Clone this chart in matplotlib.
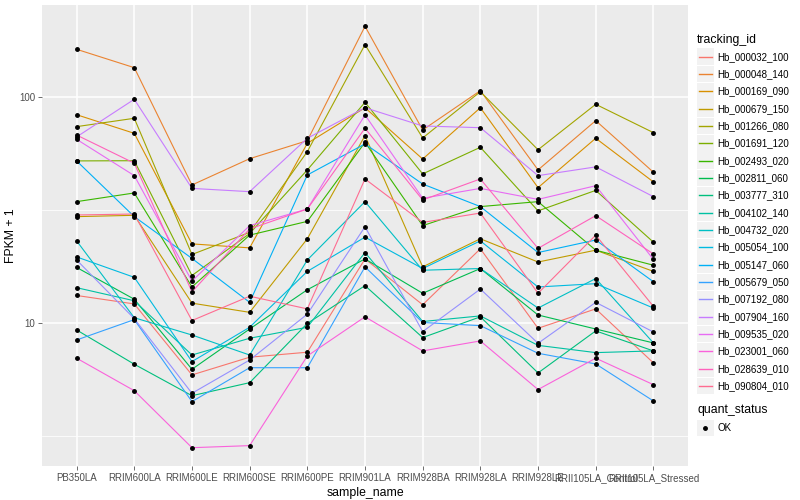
import matplotlib
matplotlib.use("Agg")
import matplotlib.pyplot as plt
from matplotlib.lines import Line2D
from matplotlib.patches import Rectangle

plt.rcParams["font.family"] = ["Liberation Sans", "DejaVu Sans"]

# data
samples = ["PB350LA", "RRIM600LA", "RRIM600LE", "RRIM600SE", "RRIM600PE",
           "RRIM901LA", "RRIM928BA", "RRIM928LA", "RRIM928LE",
           "RRII105LA_Control", "RRII105LA_Stressed"]

tracking_ids = ["Hb_000032_100", "Hb_000048_140", "Hb_000169_090", "Hb_000679_150",
                "Hb_001266_080", "Hb_001691_120", "Hb_002493_020", "Hb_002811_060",
                "Hb_003777_310", "Hb_004102_140", "Hb_004732_020", "Hb_005054_100",
                "Hb_005147_060", "Hb_005679_050", "Hb_007192_080", "Hb_007904_160",
                "Hb_009535_020", "Hb_023001_060", "Hb_028639_010", "Hb_090804_010"]

# FPKM + 1 per sample, one list per gene
hb_000032_100 = [13.3, 12.2, 5.92, 7.09, 7.46, 19.3, 12.1, 21.4, 9.52, 11.6, 6.69]
hb_000048_140 = [163.4, 135.5, 41.0, 53.6, 64.4, 206.5, 71.8, 107.2, 47.8, 79.0, 46.7]
hb_000169_090 = [83.9, 69.4, 22.5, 21.6, 62.7, 90.1, 53.4, 90.1, 39.9, 66.0, 42.3]
hb_000679_150 = [29.7, 30.1, 12.3, 11.2, 23.7, 67.8, 17.8, 23.7, 18.7, 21.1, 17.0]
hb_001266_080 = [74.3, 80.9, 20.2, 25.3, 57.6, 171.3, 66.2, 106.1, 58.7, 93.3, 69.9]
hb_001691_120 = [52.4, 52.5, 16.3, 25.0, 47.8, 95.2, 45.9, 60.2, 31.5, 38.8, 22.9]
hb_002493_020 = [34.6, 37.8, 14.5, 24.6, 28.3, 63.3, 27.1, 32.9, 34.6, 21.1, 18.1]
hb_002811_060 = [17.7, 12.8, 6.27, 9.45, 14.1, 19.3, 13.6, 17.5, 10.9, 9.45, 8.2]
hb_003777_310 = [9.36, 6.6, 4.79, 5.47, 10.0, 14.7, 8.66, 10.7, 6.04, 9.27, 7.56]
hb_004102_140 = [14.4, 12.6, 7.25, 8.6, 9.62, 20.6, 10.2, 10.8, 8.0, 7.43, 7.56]
hb_004732_020 = [23.2, 10.6, 8.89, 7.25, 19.1, 34.6, 17.2, 17.5, 11.7, 15.8, 8.2]
hb_005054_100 = [19.7, 16.0, 6.78, 9.62, 17.0, 24.1, 17.5, 23.2, 14.5, 15.0, 11.7]
hb_005147_060 = [52.4, 29.7, 19.4, 12.4, 45.4, 62.3, 41.4, 32.9, 20.6, 23.4, 15.3]
hb_005679_050 = [8.45, 10.4, 4.51, 6.37, 6.37, 17.8, 10.1, 9.78, 7.38, 6.62, 4.54]
hb_007192_080 = [19.1, 10.5, 4.91, 6.89, 11.0, 26.8, 9.2, 14.2, 8.17, 12.4, 9.17]
hb_007904_160 = [66.9, 98.2, 39.6, 38.3, 66.0, 90.1, 74.8, 73.5, 45.1, 49.3, 36.4]
hb_009535_020 = [65.3, 45.1, 15.4, 27.1, 32.1, 83.7, 35.8, 39.6, 35.4, 40.7, 19.2]
hb_023001_060 = [7.02, 5.04, 2.82, 2.88, 7.18, 10.7, 7.56, 8.37, 5.1, 7.02, 5.36]
hb_028639_010 = [68.2, 51.2, 13.8, 26.2, 32.1, 73.1, 35.2, 43.6, 21.5, 30.0, 20.3]
hb_090804_010 = [30.2, 30.5, 10.3, 13.2, 11.6, 43.6, 28.0, 30.8, 13.6, 24.6, 11.9]

series = [hb_000032_100, hb_000048_140, hb_000169_090, hb_000679_150, hb_001266_080,
          hb_001691_120, hb_002493_020, hb_002811_060, hb_003777_310, hb_004102_140,
          hb_004732_020, hb_005054_100, hb_005147_060, hb_005679_050, hb_007192_080,
          hb_007904_160, hb_009535_020, hb_023001_060, hb_028639_010, hb_090804_010]

# ggplot default hue palette for 20 levels
colors = ["#F8766D", "#EA8331", "#D89000", "#C09B00", "#A3A500", "#7CAE00", "#39B600",
          "#00BB4E", "#00BF7D", "#00C1A3", "#00BFC4", "#00BAE0", "#00B0F6", "#35A2FF",
          "#9590FF", "#C77CFF", "#E76BF3", "#FA62DB", "#FF62BC", "#FF6C91"]

W, H = 800, 500


def fx(x):
    return x / W


def fy(y):
    return 1 - y / H


fig = plt.figure(figsize=(8, 5), dpi=100)
ax = fig.add_axes([fx(42), fy(466), (688 - 42) / W, (466 - 5) / H])
ax.set_facecolor("#EBEBEB")
for s in ax.spines.values():
    s.set_visible(False)

x = list(range(len(samples)))

# grid
for v in [10 ** 0.5, 10 ** 1.5]:
    ax.axhline(v, color="white", lw=0.55, zorder=0)
for v in [10, 100]:
    ax.axhline(v, color="white", lw=1.1, zorder=0)
for xi in x:
    ax.axvline(xi, color="white", lw=1.1, zorder=0)

for vals, c in zip(series, colors):
    ax.plot(x, vals, color=c, lw=0.8, zorder=2)
for vals in series:
    ax.plot(x, vals, ls="none", marker="o", ms=2.5, color="black", zorder=3)

ax.set_yscale("log")
ax.set_ylim(2.34, 256.6)
ax.set_xlim(-0.6, len(samples) - 0.4)
ax.set_yticks([10, 100])
ax.set_yticklabels(["10", "100"])
ax.minorticks_off()
ax.set_xticks(x)
ax.set_xticklabels(samples)
ax.tick_params(axis="both", length=2.75, width=0.5, color="#333333",
               labelcolor="#4D4D4D", labelsize=7, pad=2.2)
ax.set_xlabel("sample_name", fontsize=8.8, labelpad=3)
fig.text(fx(11), fy(235.5), "FPKM + 1", fontsize=8.8, rotation=90,
         ha="center", va="center")

# legend: tracking_id
fig.text(fx(697), fy(40), "tracking_id", fontsize=8.8, va="center", ha="left")
for i, (name, c) in enumerate(zip(tracking_ids, colors)):
    yc = 56.7 + i * 17.33
    fig.add_artist(Rectangle((fx(697), fy(yc + 8.3)), 16.5 / W, 16.6 / H,
                             transform=fig.transFigure, facecolor="#F2F2F2",
                             edgecolor="none", zorder=1))
    fig.add_artist(Line2D([fx(699), fx(712)], [fy(yc), fy(yc)],
                          transform=fig.transFigure, color=c, lw=1.0, zorder=2))
    fig.text(fx(717), fy(yc), name, fontsize=7, va="center", ha="left")

# legend: quant_status
fig.text(fx(697), fy(410), "quant_status", fontsize=8.8, va="center", ha="left")
fig.add_artist(Rectangle((fx(697), fy(428 + 8.3)), 16.5 / W, 16.6 / H,
                         transform=fig.transFigure, facecolor="#F2F2F2",
                         edgecolor="none", zorder=1))
fig.add_artist(Line2D([fx(705)], [fy(428)], transform=fig.transFigure,
                      ls="none", marker="o", ms=2.5, color="black", zorder=2))
fig.text(fx(717), fy(428), "OK", fontsize=7, va="center", ha="left")

fig.savefig("out.png", dpi=100)
